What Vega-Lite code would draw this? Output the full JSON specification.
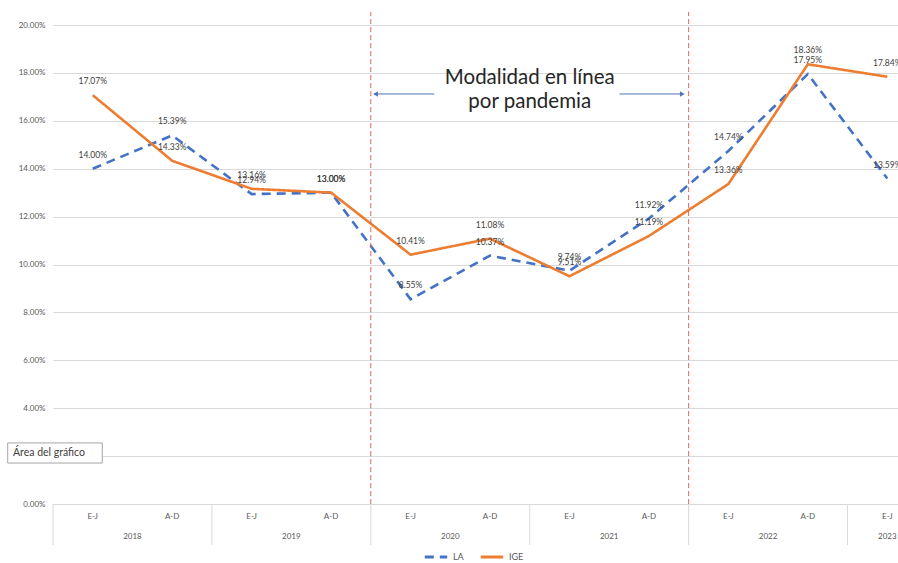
{
  "$schema": "https://vega.github.io/schema/vega-lite/v6.json",
  "autosize": {"type": "none"},
  "width": 845,
  "height": 479,
  "padding": {"left": 53, "top": 25, "right": 0, "bottom": 59},
  "background": "white",
  "config": {"font": "Lato", "view": {"stroke": null}},
  "datasets": {
    "main": [
      {"key": "2018|E-J", "series": "LA", "value": 0.1400},
      {"key": "2018|A-D", "series": "LA", "value": 0.1539},
      {"key": "2019|E-J", "series": "LA", "value": 0.1294},
      {"key": "2019|A-D", "series": "LA", "value": 0.1300},
      {"key": "2020|E-J", "series": "LA", "value": 0.0855},
      {"key": "2020|A-D", "series": "LA", "value": 0.1037},
      {"key": "2021|E-J", "series": "LA", "value": 0.0974},
      {"key": "2021|A-D", "series": "LA", "value": 0.1192},
      {"key": "2022|E-J", "series": "LA", "value": 0.1474},
      {"key": "2022|A-D", "series": "LA", "value": 0.1795},
      {"key": "2023|E-J", "series": "LA", "value": 0.1359},
      {"key": "2018|E-J", "series": "IGE", "value": 0.1707},
      {"key": "2018|A-D", "series": "IGE", "value": 0.1433},
      {"key": "2019|E-J", "series": "IGE", "value": 0.1316},
      {"key": "2019|A-D", "series": "IGE", "value": 0.1300},
      {"key": "2020|E-J", "series": "IGE", "value": 0.1041},
      {"key": "2020|A-D", "series": "IGE", "value": 0.1108},
      {"key": "2021|E-J", "series": "IGE", "value": 0.0951},
      {"key": "2021|A-D", "series": "IGE", "value": 0.1119},
      {"key": "2022|E-J", "series": "IGE", "value": 0.1336},
      {"key": "2022|A-D", "series": "IGE", "value": 0.1836},
      {"key": "2023|E-J", "series": "IGE", "value": 0.1784}
    ],
    "years": [
      {"key": "2018|E-J", "year": "2018"},
      {"key": "2019|E-J", "year": "2019"},
      {"key": "2020|E-J", "year": "2020"},
      {"key": "2021|E-J", "year": "2021"},
      {"key": "2022|E-J", "year": "2022"},
      {"key": "2023|E-J", "year": "2023"}
    ],
    "events": [{"key": "2020|E-J"}, {"key": "2022|E-J"}],
    "note": [
      {"key": "2021|E-J", "v": 0.1779, "text": "Modalidad en línea"},
      {"key": "2021|E-J", "v": 0.1678, "text": "por pandemia"}
    ]
  },
  "layer": [
    {
      "data": {"name": "years"},
      "mark": {"type": "rule", "color": "#d9d9d9", "strokeWidth": 1},
      "encoding": {
        "x": {"field": "key", "type": "ordinal", "bandPosition": 0,
              "scale": {"domain": ["2018|E-J","2018|A-D","2019|E-J","2019|A-D","2020|E-J","2020|A-D","2021|E-J","2021|A-D","2022|E-J","2022|A-D","2023|E-J"], "range": [0, 874], "paddingInner": 0, "paddingOuter": 0},
              "axis": {"title": null, "labelExpr": "split(datum.label, '|')[1]", "labelFontSize": 8, "labelColor": "#595959", "ticks": false, "domainColor": "#d9d9d9", "labelPadding": 8, "labelAngle": 0, "grid": false}},
        "y": {"value": 479},
        "y2": {"value": 520}
      }
    },
    {
      "data": {"name": "years"},
      "transform": [{"filter": "datum.year != '2023'"}],
      "mark": {"type": "text", "fontSize": 8, "color": "#595959", "baseline": "middle"},
      "encoding": {
        "x": {"field": "key", "type": "ordinal", "bandPosition": 1},
        "y": {"value": 512},
        "text": {"field": "year"}
      }
    },
    {
      "data": {"name": "years"},
      "transform": [{"filter": "datum.year == '2023'"}],
      "mark": {"type": "text", "fontSize": 8, "color": "#595959", "baseline": "middle"},
      "encoding": {
        "x": {"field": "key", "type": "ordinal", "bandPosition": 0.5},
        "y": {"value": 512},
        "text": {"field": "year"}
      }
    },
    {
      "data": {"name": "main"},
      "mark": {"type": "line", "strokeWidth": 2.6},
      "encoding": {
        "x": {"field": "key", "type": "ordinal"},
        "y": {"field": "value", "type": "quantitative",
              "scale": {"domain": [0, 0.2], "nice": false},
              "axis": {"title": null, "values": [0, 0.02, 0.04, 0.06, 0.08, 0.1, 0.12, 0.14, 0.16, 0.18, 0.2], "format": ".2%", "labelFontSize": 8, "labelColor": "#595959", "gridColor": "#d9d9d9", "domain": false, "ticks": false, "labelPadding": 8}},
        "color": {"field": "series", "type": "nominal", "sort": ["LA", "IGE"],
                  "scale": {"domain": ["LA", "IGE"], "range": ["#4472C4", "#ED7D31"]},
                  "legend": {"title": null, "orient": "none", "legendX": 370, "legendY": 519, "direction": "horizontal", "symbolType": "stroke", "symbolStrokeWidth": 3, "symbolSize": 500, "labelFontSize": 9, "labelColor": "#595959", "columnPadding": 10}},
        "strokeDash": {"field": "series", "type": "nominal", "sort": ["LA", "IGE"],
                       "scale": {"domain": ["LA", "IGE"], "range": [[9, 6], [1, 0]]},
                       "legend": {"title": null, "orient": "none", "legendX": 370, "legendY": 519, "direction": "horizontal", "symbolType": "stroke", "symbolStrokeWidth": 3, "symbolSize": 500, "labelFontSize": 9, "labelColor": "#595959", "columnPadding": 10}}
      }
    },
    {
      "data": {"name": "main"},
      "mark": {"type": "text", "fontSize": 8.5, "color": "#404040", "dy": -14},
      "encoding": {
        "x": {"field": "key", "type": "ordinal"},
        "y": {"field": "value", "type": "quantitative"},
        "text": {"field": "value", "type": "quantitative", "format": ".2%"}
      }
    },
    {
      "data": {"name": "events"},
      "mark": {"type": "rule", "color": "#E06666", "strokeWidth": 1, "strokeDash": [5, 3]},
      "encoding": {
        "x": {"field": "key", "type": "ordinal", "bandPosition": 0},
        "y": {"datum": 0},
        "y2": {"value": -13}
      }
    },
    {
      "data": {"values": [{"key": "2020|E-J"}]},
      "mark": {"type": "rule", "color": "#4F74B8", "strokeWidth": 1},
      "encoding": {
        "x": {"field": "key", "type": "ordinal", "bandPosition": 0.04},
        "x2": {"field": "key", "bandPosition": 0.8},
        "y": {"datum": 0.1712}
      }
    },
    {
      "data": {"values": [{"key": "2021|A-D"}]},
      "mark": {"type": "rule", "color": "#4F74B8", "strokeWidth": 1},
      "encoding": {
        "x": {"field": "key", "type": "ordinal", "bandPosition": 0.13},
        "x2": {"field": "key", "bandPosition": 0.93},
        "y": {"datum": 0.1712}
      }
    },
    {
      "data": {"values": [{"key": "2020|E-J"}]},
      "mark": {"type": "point", "shape": "triangle-left", "filled": true, "color": "#4F74B8", "size": 30, "opacity": 1},
      "encoding": {
        "x": {"field": "key", "type": "ordinal", "bandPosition": 0.06},
        "y": {"datum": 0.1712}
      }
    },
    {
      "data": {"values": [{"key": "2021|A-D"}]},
      "mark": {"type": "point", "shape": "triangle-right", "filled": true, "color": "#4F74B8", "size": 30, "opacity": 1},
      "encoding": {
        "x": {"field": "key", "type": "ordinal", "bandPosition": 0.92},
        "y": {"datum": 0.1712}
      }
    },
    {
      "data": {"name": "note"},
      "mark": {"type": "text", "fontSize": 20.5, "color": "#262626", "baseline": "middle"},
      "encoding": {
        "x": {"field": "key", "type": "ordinal", "bandPosition": 0},
        "y": {"field": "v", "type": "quantitative"},
        "text": {"field": "text"}
      }
    },
    {
      "data": {"values": [{"key": "2018|E-J", "v1": 0.0255, "v2": 0.0171}]},
      "mark": {"type": "rect", "fill": "white", "stroke": "#a6a6a6", "strokeWidth": 1},
      "encoding": {
        "x": {"field": "key", "type": "ordinal", "bandPosition": -0.57},
        "x2": {"field": "key", "bandPosition": 0.62},
        "y": {"field": "v1", "type": "quantitative"},
        "y2": {"field": "v2"}
      }
    },
    {
      "data": {"values": [{"key": "2018|E-J", "v": 0.0213, "text": "Área del gráfico"}]},
      "mark": {"type": "text", "fontSize": 10.5, "color": "#404040", "align": "left", "baseline": "middle", "dx": -40},
      "encoding": {
        "x": {"field": "key", "type": "ordinal", "bandPosition": 0},
        "y": {"field": "v", "type": "quantitative"},
        "text": {"field": "text"}
      }
    }
  ]
}
